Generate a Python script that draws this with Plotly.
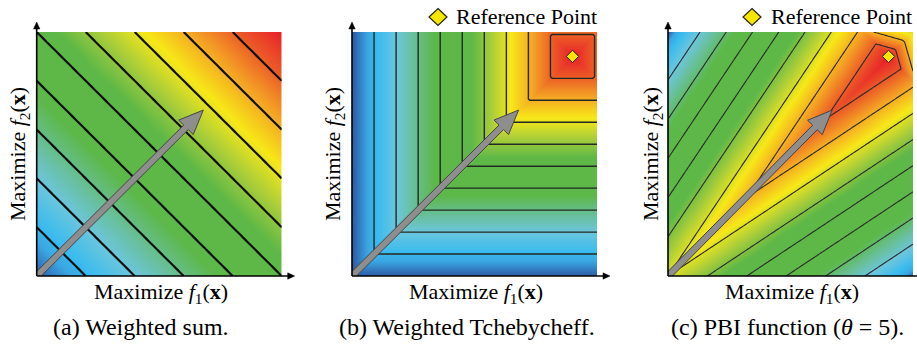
import numpy as np
import plotly.graph_objects as go

W, H = 917, 347

# ---------------- data ----------------
grid_f = np.linspace(0.0, 1.0, 121)          # objective grid (normalised f1, f2)
ws_weights = [1.0, 1.0]                        # weighted-sum weights
reference_point = [0.9, 0.9]                   # ideal / reference point z*
pbi_weights = [1.0, 1.0]                       # PBI direction
theta = 5.0                                    # PBI penalty
overshoot_penalty = 9.0                        # penalty beyond z* along the direction
ws_levels = [0.2, 1.8, 0.2]                    # start, end, step
tch_levels = [0.09, 0.81, 0.09]
pbi_levels = [0.3636, 4.0, 0.4547]
arrow_tips = [[0.68, 0.68], [0.68, 0.68], [0.67, 0.68]]
captions = ["(a) Weighted sum.", "(b) Weighted Tchebycheff.",
            "(c) PBI function (<i>θ</i> = 5)."]
x_title = "Maximize <i>f</i><sub>1</sub>(<b>x</b>)"
y_title = "Maximize <i>f</i><sub>2</sub>(<b>x</b>)"
legend_label = "Reference Point"

# ---------------- style ----------------
FONT = "Liberation Serif"
colorscale = [
    [0.00, "#2b5aa6"],
    [0.07, "#3aa6e2"],
    [0.11, "#38bbef"],
    [0.20, "#6cc6dc"],
    [0.28, "#68bf98"],
    [0.37, "#5cb848"],
    [0.54, "#5eb847"],
    [0.63, "#a9cd3a"],
    [0.72, "#f7e818"],
    [0.82, "#f4a224"],
    [0.91, "#ec5a27"],
    [1.00, "#e8202a"],
]
colorscale_c = [
    [0.00, "#2b5aa6"],
    [0.03, "#3aa6e2"],
    [0.06, "#38bbef"],
    [0.13, "#6cc6dc"],
    [0.20, "#68bf98"],
    [0.28, "#5cb848"],
    [0.54, "#5eb847"],
    [0.63, "#a9cd3a"],
    [0.72, "#f7e818"],
    [0.82, "#f4a224"],
    [0.91, "#ec5a27"],
    [1.00, "#e8202a"],
]
panel_left_px = [36.7, 352.0, 668.0]
panel_w_px = 245.0
top_px, bottom_px = 32.0, 276.0

# ---------------- functions ----------------
X, Y = np.meshgrid(grid_f, grid_f)
z_ws = ws_weights[0] * X + ws_weights[1] * Y
z_tch = np.maximum(np.abs(reference_point[0] - X), np.abs(reference_point[1] - Y))
wv = np.array(pbi_weights) / np.linalg.norm(pbi_weights)
dx = reference_point[0] - X
dy = reference_point[1] - Y
d1 = dx * wv[0] + dy * wv[1]
d2 = np.sqrt((dx - d1 * wv[0]) ** 2 + (dy - d1 * wv[1]) ** 2)
z_pbi = np.where(d1 >= 0, d1, -overshoot_penalty * d1) + theta * d2

panels = [
    dict(z=z_ws, zmax=2.0, rev=False, lv=ws_levels, lc="#111111", lw=2.2, cs=colorscale),
    dict(z=z_tch, zmax=0.9, rev=True, lv=tch_levels, lc="#222a22", lw=1.4, cs=colorscale),
    dict(z=z_pbi, zmax=float(z_pbi.max()), rev=True, lv=pbi_levels, lc="#2a2a2a", lw=1.1,
         cs=colorscale_c),
]


def arrow_poly(tip, shaft_hw=0.013, head_hw=0.042, head_len=0.1):
    tip = np.array(tip, dtype=float)
    L = np.linalg.norm(tip)
    u = tip / L
    n = np.array([-u[1], u[0]])
    base = tip - u * head_len
    o = np.zeros(2)
    pts = [o + n * shaft_hw, base + n * shaft_hw, base + n * head_hw, tip,
           base - n * head_hw, base - n * shaft_hw, o - n * shaft_hw, o + n * shaft_hw]
    return [p[0] for p in pts], [p[1] for p in pts]


fig = go.Figure()
layout = dict(
    width=W, height=H, margin=dict(l=0, r=0, t=0, b=0),
    paper_bgcolor="white", plot_bgcolor="white", showlegend=False,
    font=dict(family=FONT, size=22, color="black"),
)
annotations = []
shapes = []

for i, p in enumerate(panels):
    sfx = "" if i == 0 else str(i + 1)
    xa, ya = "x" + sfx, "y" + sfx
    fig.add_trace(go.Contour(
        x=grid_f, y=grid_f, z=p["z"], zmin=0, zmax=p["zmax"],
        colorscale=p["cs"], reversescale=p["rev"], showscale=False,
        contours=dict(start=p["lv"][0], end=p["lv"][1], size=p["lv"][2], coloring="heatmap"),
        line=dict(color=p["lc"], width=p["lw"], smoothing=0),
        hoverinfo="skip", xaxis=xa, yaxis=ya,
    ))
    ax_x, ax_y = arrow_poly(arrow_tips[i])
    fig.add_trace(go.Scatter(
        x=ax_x, y=ax_y, mode="lines", fill="toself", fillcolor="#8e8e8e",
        line=dict(color="#454545", width=1), hoverinfo="skip", xaxis=xa, yaxis=ya,
    ))
    if i > 0:
        fig.add_trace(go.Scatter(
            x=[reference_point[0]], y=[reference_point[1]], mode="markers",
            marker=dict(symbol="diamond", size=9.5, color="#f7e600",
                        line=dict(color="#222222", width=1)),
            hoverinfo="skip", xaxis=xa, yaxis=ya,
        ))
    left = panel_left_px[i]
    right = left + panel_w_px
    layout["xaxis" + sfx] = dict(domain=[left / W, right / W], range=[0, 1], visible=False,
                                 anchor=ya, fixedrange=True)
    layout["yaxis" + sfx] = dict(domain=[1 - bottom_px / H, 1 - top_px / H], range=[0, 1],
                                 visible=False, anchor=xa, fixedrange=True)
    # axis lines with arrowheads (shapes)
    x0p, yb = left / W, 1 - bottom_px / H
    xe = (right + 13) / W
    ye = 1 - (top_px - 10) / H
    shapes.append(dict(type="line", xref="paper", yref="paper", x0=x0p, y0=yb, x1=xe - 4 / W, y1=yb,
                       line=dict(color="black", width=1.6)))
    shapes.append(dict(type="line", xref="paper", yref="paper", x0=x0p, y0=yb, x1=x0p, y1=ye - 4 / H,
                       line=dict(color="black", width=1.6)))
    shapes.append(dict(type="path", xref="paper", yref="paper", xsizemode="pixel", ysizemode="pixel",
                       xanchor=xe, yanchor=yb, path="M 0,0 L -7,3.2 L -7,-3.2 Z",
                       fillcolor="black", line=dict(color="black", width=0.5)))
    shapes.append(dict(type="path", xref="paper", yref="paper", xsizemode="pixel", ysizemode="pixel",
                       xanchor=x0p, yanchor=ye, path="M 0,0 L 3.2,-7 L -3.2,-7 Z",
                       fillcolor="black", line=dict(color="black", width=0.5)))

xt_centers = [161, 476, 792]
yt_centers = [19, 334, 652]
cap_centers = [141, 467, 787]
for i in range(3):
    annotations.append(dict(xref="paper", yref="paper", x=xt_centers[i] / W, y=1 - 293 / H,
                            text=x_title, showarrow=False, xanchor="center", yanchor="middle",
                            font=dict(family=FONT, size=22)))
    annotations.append(dict(xref="paper", yref="paper", x=yt_centers[i] / W,
                            y=1 - (top_px + bottom_px) / 2 / H,
                            text=y_title, showarrow=False, textangle=-90,
                            xanchor="center", yanchor="middle",
                            font=dict(family=FONT, size=22)))
    annotations.append(dict(xref="paper", yref="paper", x=cap_centers[i] / W, y=1 - 327 / H,
                            text=captions[i], showarrow=False, xanchor="center", yanchor="middle",
                            font=dict(family=FONT, size=24)))

# "Reference Point" keys for panels (b) and (c)
for dcx, tx in [(438, 454), (752, 769)]:
    shapes.append(dict(type="path", xref="paper", yref="paper",
                       xsizemode="pixel", ysizemode="pixel",
                       xanchor=dcx / W, yanchor=1 - 17 / H,
                       path="M 0,8.5 L 9,0 L 0,-8.5 L -9,0 Z",
                       fillcolor="#f7e600", line=dict(color="#222222", width=1.2)))
    annotations.append(dict(xref="paper", yref="paper", x=tx / W, y=1 - 17 / H,
                            text=legend_label, showarrow=False, xanchor="left", yanchor="middle",
                            font=dict(family=FONT, size=22)))

layout["annotations"] = annotations
layout["shapes"] = shapes
fig.update_layout(**layout)
fig.write_html("out.html", config={"displayModeBar": False, "staticPlot": True},
               post_script="document.body.style.margin='0';document.body.style.overflow='hidden';")
